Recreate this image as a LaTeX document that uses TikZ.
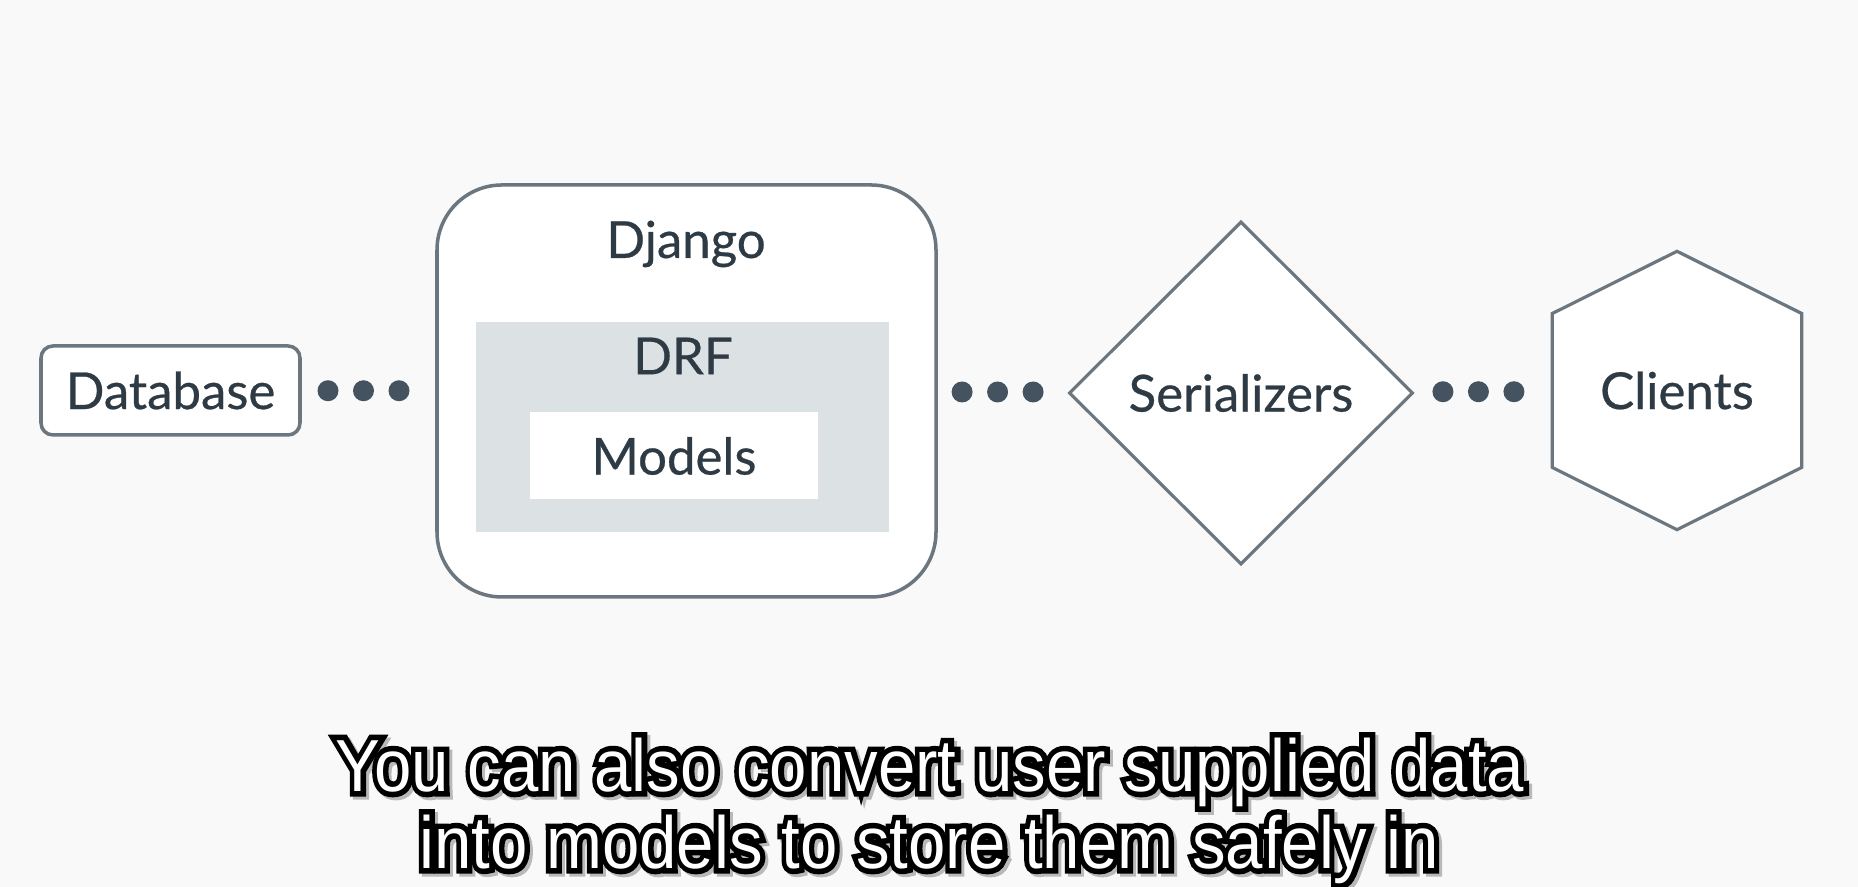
\documentclass[tikz,border=0pt]{standalone}
\usepackage{fontspec}
\setmainfont{Lato}
\newfontfamily\labelfont{Lato}[FakeBold=0.5]
\newfontfamily\subfont{Liberation Sans}
\newfontfamily\subedge{Liberation Sans}[FakeBold=15]
\usepackage{xcolor}
\definecolor{Paper}{RGB}{249,249,249}
\definecolor{Slate}{RGB}{108,118,127}
\definecolor{Ink}{RGB}{46,58,68}
\definecolor{Mist}{RGB}{220,225,228}
\definecolor{Dot}{RGB}{68,83,95}
\usetikzlibrary{shapes.geometric,calc,positioning}

\begin{document}
\begin{tikzpicture}[every node/.style={text=Ink,font=\labelfont\fontsize{14.5}{17}\selectfont},
    box/.style={draw=Slate,line width=1pt,fill=white},
    thin/.style={draw=Slate,line width=0.9pt,fill=white},
    sub/.style={text=white,font=\subfont\fontsize{21}{25}\selectfont,xscale=0.91},
    subedge/.style={sub,text=black,font=\subedge\fontsize{21}{25}\selectfont}]
    \useasboundingbox(0,0) rectangle(18.58,8.87);
       \fill[Paper](0,0) rectangle(18.58,8.87);
    % boxes
    \node[box,rounded corners=0.12cm,minimum width=2.59cm,minimum height=0.89cm](db) at(1.705,4.965){Database};
    \node[box,rounded corners=0.65cm,minimum width=4.99cm,minimum height=4.12cm](dj) at(6.865,4.96){};
    \node(djl) at(6.86,6.43){Django};
    \node[fill=Mist,minimum width=4.13cm,minimum height=2.10cm](drf) at(6.825,4.60){};
    \node(drfl) at(6.83,5.31){DRF};
    \node[fill=white,minimum width=2.88cm,minimum height=0.87cm](mo) at(6.74,4.31){Models};
    \node[thin,diamond,minimum width=3.44cm,minimum height=3.43cm,inner sep=0pt](sr) at(12.41,4.94){Serializers};
    \node[minimum width=2.48cm,minimum height=2.77cm,inner sep=0pt](cl) at(16.77,4.965){};
    \draw[thin](cl.north)--($(cl.east)+(0,0.77)$)--($(cl.east)+(0,-0.77)$)--(cl.south)
        --($(cl.west)+(0,-0.77)$)--($(cl.west)+(0,0.77)$)--cycle;
    \node at(cl){Clients};
    % dots
    \foreach \a/\b in {db/dj,dj/sr,sr/cl}{
      \foreach \k in {-1,0,1}
        \fill[Dot]($(\a.east)!0.5!(\b.west)$)++(\k*0.355-0.05,0) circle(0.105);}
    % subtitle
    \node[subedge,text=gray!55](s1s) at(9.33,1.12){You can also convert user supplied data};
    \node[subedge](s1e) at(9.30,1.15){You can also convert user supplied data};
    \node[sub](s1) at(9.30,1.15){You can also convert user supplied data};
    \node[subedge,text=gray!55](s2s) at(9.32,0.35){into models to store them safely in};
    \node[subedge](s2e) at(9.29,0.38){into models to store them safely in};
    \node[sub](s2) at(9.29,0.38){into models to store them safely in};
    \end{tikzpicture}
\end{document}
